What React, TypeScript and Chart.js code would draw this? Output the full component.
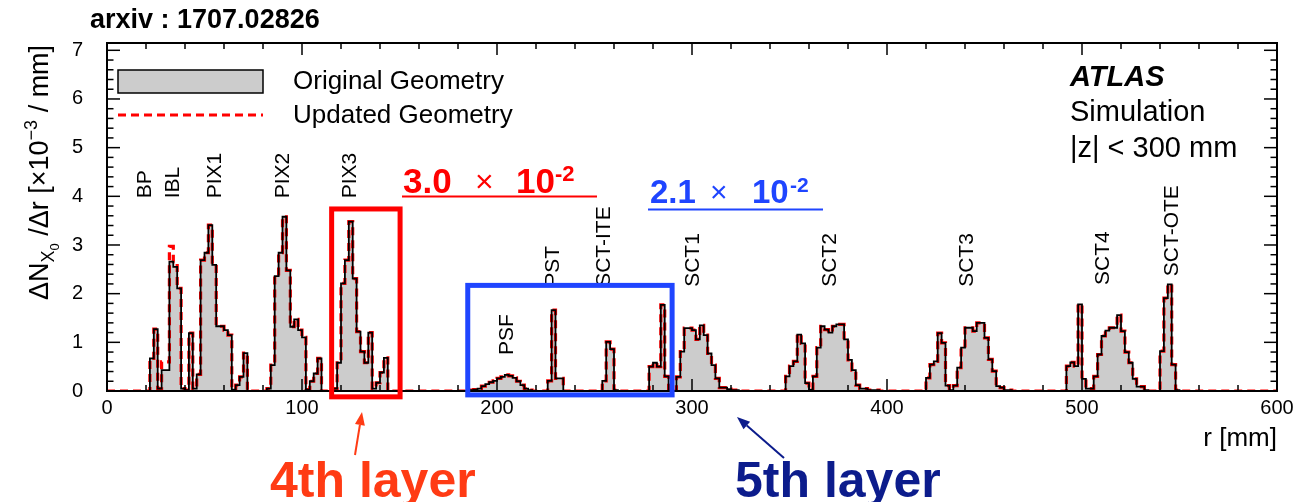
import React, { useEffect, useRef } from "react";
import { Chart, registerables } from "chart.js";

Chart.register(...registerables);

// ---------------- data ----------------
const R_MIN = 0; // mm
const R_MAX = 600; // mm
const BIN_WIDTH = 2; // mm
const Y_MAX = 7.15;

const xTickValues = [0, 100, 200, 300, 400, 500, 600];
const xTickLabels = ["0", "100", "200", "300", "400", "500", "600"];
const yTickValues = [0, 1, 2, 3, 4, 5, 6, 7];
const yTickLabels = ["0", "1", "2", "3", "4", "5", "6", "7"];

// ΔN_X0/Δr [x10^-3 / mm], 2 mm bins from 0 to 600 mm (one row = 20 mm)
const originalValues = [
  0, 0, 0, 0, 0, 0, 0, 0, 0, 0,
  0, 0.67, 1.27, 0.05, 0.43, 0.43, 2.66, 2.55, 2.11, 0.05,
  0.02, 1.19, 0.05, 0.34, 2.69, 2.84, 3.41, 2.59, 1.33, 1.33,
  1.25, 1.15, 0.03, 0.12, 0.29, 0.78, 0, 0, 0, 0,
  0, 0.05, 0.53, 2.36, 2.84, 3.58, 2.48, 1.32, 1.47, 1.25,
  1.1, 0.03, 0.2, 0.36, 0.67, 0, 0, 0, 0.05, 0.58,
  2.21, 2.69, 3.48, 2.31, 1.22, 0.81, 0.58, 1.2, 0.05, 0.17,
  0.38, 0.68, 0, 0, 0, 0, 0, 0, 0, 0,
  0, 0, 0, 0, 0, 0, 0, 0, 0, 0,
  0, 0, 0, 0.02, 0.03, 0.05, 0.1, 0.14, 0.18, 0.21,
  0.26, 0.29, 0.33, 0.31, 0.27, 0.2, 0.12, 0.05, 0.02, 0,
  0, 0, 0, 0.21, 1.66, 0.26, 0.26, 0, 0, 0,
  0, 0, 0, 0, 0, 0, 0, 0.21, 1.01, 0.86,
  0.02, 0, 0, 0, 0, 0, 0, 0, 0, 0.5,
  0.58, 0.5, 1.77, 0.3, 0, 0, 0.29, 0.81, 1.29, 1.29,
  1.25, 1.06, 1.35, 1.15, 0.77, 0.53, 0.26, 0.07, 0.07, 0.04,
  0.02, 0.02, 0, 0, 0, 0, 0, 0, 0, 0,
  0, 0, 0, 0, 0.3, 0.51, 0.61, 1.16, 0.98, 0.16,
  0.03, 0.3, 0.89, 1.33, 1.26, 1.2, 1.33, 1.37, 1.37, 1.06,
  0.64, 0.43, 0.12, 0.05, 0.05, 0.02, 0.02, 0.02, 0, 0,
  0, 0, 0, 0, 0, 0, 0, 0, 0, 0,
  0.27, 0.54, 0.61, 1.19, 0.99, 0.11, 0.02, 0.11, 0.48, 0.89,
  1.3, 1.3, 1.23, 1.4, 1.4, 1.09, 0.65, 0.41, 0.1, 0.07,
  0.02, 0.02, 0, 0, 0, 0, 0, 0, 0, 0,
  0, 0, 0, 0, 0, 0, 0.51, 0.59, 0.51, 1.78,
  0.25, 0.05, 0.05, 0.3, 0.75, 1.13, 1.24, 1.3, 1.3, 1.56,
  1.23, 0.8, 0.58, 0.25, 0.09, 0.09, 0.02, 0, 0, 0,
  0.82, 1.91, 2.19, 0.54, 0.02, 0, 0, 0, 0, 0,
  0, 0, 0, 0, 0, 0, 0, 0, 0, 0,
  0, 0, 0, 0, 0, 0, 0, 0, 0, 0,
];

const updatedValues = [
  0, 0, 0, 0, 0, 0, 0, 0, 0, 0,
  0, 0.67, 1.27, 0.05, 0.6, 0.6, 2.97, 2.66, 2.11, 0.05,
  0.02, 1.19, 0.05, 0.34, 2.69, 2.84, 3.41, 2.59, 1.33, 1.33,
  1.25, 1.15, 0.03, 0.12, 0.29, 0.78, 0, 0, 0, 0,
  0, 0.05, 0.53, 2.36, 2.84, 3.58, 2.48, 1.32, 1.47, 1.25,
  1.1, 0.03, 0.2, 0.36, 0.67, 0, 0, 0, 0.05, 0.58,
  2.21, 2.69, 3.48, 2.31, 1.22, 0.81, 0.58, 1.2, 0.05, 0.17,
  0.38, 0.68, 0, 0, 0, 0, 0, 0, 0, 0,
  0, 0, 0, 0, 0, 0, 0, 0, 0, 0,
  0, 0, 0, 0.02, 0.03, 0.05, 0.1, 0.14, 0.18, 0.21,
  0.26, 0.29, 0.33, 0.31, 0.27, 0.2, 0.12, 0.05, 0.02, 0,
  0, 0, 0, 0.21, 1.66, 0.26, 0.26, 0, 0, 0,
  0, 0, 0, 0, 0, 0, 0, 0.21, 1.01, 0.86,
  0.02, 0, 0, 0, 0, 0, 0, 0, 0, 0.5,
  0.58, 0.5, 1.77, 0.3, 0, 0, 0.29, 0.81, 1.29, 1.29,
  1.25, 1.06, 1.35, 1.15, 0.77, 0.53, 0.26, 0.07, 0.07, 0.04,
  0.02, 0.02, 0, 0, 0, 0, 0, 0, 0, 0,
  0, 0, 0, 0, 0.3, 0.51, 0.61, 1.16, 0.98, 0.16,
  0.03, 0.3, 0.89, 1.33, 1.26, 1.2, 1.33, 1.37, 1.37, 1.06,
  0.64, 0.43, 0.12, 0.05, 0.05, 0.02, 0.02, 0.02, 0, 0,
  0, 0, 0, 0, 0, 0, 0, 0, 0, 0,
  0.27, 0.54, 0.61, 1.19, 0.99, 0.11, 0.02, 0.11, 0.48, 0.89,
  1.3, 1.3, 1.23, 1.4, 1.4, 1.09, 0.65, 0.41, 0.1, 0.07,
  0.02, 0.02, 0, 0, 0, 0, 0, 0, 0, 0,
  0, 0, 0, 0, 0, 0, 0.51, 0.59, 0.51, 1.78,
  0.25, 0.05, 0.05, 0.3, 0.75, 1.13, 1.24, 1.3, 1.3, 1.56,
  1.23, 0.8, 0.58, 0.25, 0.09, 0.09, 0.02, 0, 0, 0,
  0.82, 1.91, 2.19, 0.54, 0.02, 0, 0, 0, 0, 0,
  0, 0, 0, 0, 0, 0, 0, 0, 0, 0,
  0, 0, 0, 0, 0, 0, 0, 0, 0, 0,
];

const seriesNames = ["Original Geometry", "Updated Geometry"];
const detectorNames = ["BP", "IBL", "PIX1", "PIX2", "PIX3", "PSF", "PST", "SCT-ITE", "SCT1", "SCT2", "SCT3", "SCT4", "SCT-OTE"];

// ---------------- layout / styles ----------------
const FONT = '"Liberation Sans", Arial, Helvetica, sans-serif';
// label anchors (r in mm, value at text start) for detector names
const detectorLabelAnchors: [number, number][] = [
  [19.6, 3.96], [34, 3.96], [55.5, 3.96], [90.4, 3.96], [124.7, 3.96],
  [205.2, 0.74], [228.8, 2.14], [255, 2.14], [300.6, 2.14], [370.8, 2.14],
  [441, 2.14], [510.8, 2.18], [546.2, 2.36],
];

function toSteps(values: number[]) {
  const pts = values.map((v, i) => ({ x: R_MIN + i * BIN_WIDTH, y: v }));
  pts.push({ x: R_MIN + values.length * BIN_WIDTH, y: values[values.length - 1] });
  return pts;
}

type Part = { t: string; size: number; dy?: number; weight?: string; style?: string };

function drawParts(ctx: CanvasRenderingContext2D, parts: Part[], x: number, y: number) {
  let cx = x;
  for (const p of parts) {
    ctx.font = `${p.style || ""} ${p.weight || ""} ${p.size}px ${FONT}`;
    ctx.fillText(p.t, cx, y + (p.dy || 0));
    cx += ctx.measureText(p.t).width;
  }
}

function line(ctx: CanvasRenderingContext2D, x1: number, y1: number, x2: number, y2: number) {
  ctx.beginPath();
  ctx.moveTo(x1, y1);
  ctx.lineTo(x2, y2);
  ctx.stroke();
}

function arrow(ctx: CanvasRenderingContext2D, x1: number, y1: number, x2: number, y2: number, color: string) {
  const ang = Math.atan2(y2 - y1, x2 - x1);
  const hl = 13, hw = 5;
  const bx = x2 - hl * Math.cos(ang), by = y2 - hl * Math.sin(ang);
  ctx.strokeStyle = color;
  ctx.fillStyle = color;
  ctx.lineWidth = 2;
  line(ctx, x1, y1, bx, by);
  ctx.beginPath();
  ctx.moveTo(x2, y2);
  ctx.lineTo(bx + hw * Math.sin(ang), by - hw * Math.cos(ang));
  ctx.lineTo(bx - hw * Math.sin(ang), by + hw * Math.cos(ang));
  ctx.closePath();
  ctx.fill();
}

const overlayPlugin = {
  id: "rootStyleOverlay",
  afterDraw(chart: any) {
    const ctx: CanvasRenderingContext2D = chart.ctx;
    const xs = chart.scales.x;
    const ys = chart.scales.y;
    const { left, right, top, bottom } = chart.chartArea;
    ctx.save();

    // frame
    ctx.strokeStyle = "#000";
    ctx.lineWidth = 2;
    ctx.strokeRect(left, top, right - left, bottom - top);

    // ticks (inside, ROOT style)
    ctx.lineWidth = 1.5;
    for (let k = 0; k <= 30; k++) {
      const r = k * 20;
      const px = xs.getPixelForValue(r);
      const len = k % 5 === 0 ? 12 : 6;
      line(ctx, px, bottom, px, bottom - len);
      line(ctx, px, top, px, top + len);
    }
    for (let k = 0; k <= 35; k++) {
      const v = k / 5;
      const py = ys.getPixelForValue(v);
      const len = k % 5 === 0 ? 13 : 6.5;
      line(ctx, left, py, left + len, py);
      line(ctx, right, py, right - len, py);
    }

    // tick labels
    ctx.fillStyle = "#000";
    ctx.font = `20px ${FONT}`;
    ctx.textAlign = "center";
    ctx.textBaseline = "top";
    xTickValues.forEach((v, i) => ctx.fillText(xTickLabels[i], xs.getPixelForValue(v), bottom + 7));
    ctx.textAlign = "right";
    ctx.textBaseline = "middle";
    yTickValues.forEach((v, i) => ctx.fillText(yTickLabels[i], left - 24, ys.getPixelForValue(v)));

    // x title
    ctx.textAlign = "right";
    ctx.textBaseline = "alphabetic";
    ctx.font = `26px ${FONT}`;
    ctx.fillText("r [mm]", right, 446);

    // y title (rotated)
    ctx.save();
    ctx.translate(48, 300);
    ctx.rotate(-Math.PI / 2);
    ctx.textAlign = "left";
    drawParts(ctx, [
      { t: "ΔN", size: 27 },
      { t: "X", size: 18, dy: 6 },
      { t: "0", size: 13, dy: 11 },
      { t: " /Δr [×10", size: 27 },
      { t: "−3", size: 18, dy: -11 },
      { t: " / mm]", size: 27 },
    ], 0, 0);
    ctx.restore();

    // header
    ctx.textAlign = "left";
    ctx.font = `bold 27px ${FONT}`;
    ctx.fillText("arxiv : 1707.02826", 90, 28);

    // legend
    ctx.fillStyle = "#cccccc";
    ctx.fillRect(118, 70, 145, 23);
    ctx.strokeStyle = "#000";
    ctx.lineWidth = 1.5;
    ctx.strokeRect(118, 70, 145, 23);
    ctx.strokeStyle = "#ff0000";
    ctx.lineWidth = 3;
    ctx.setLineDash([8, 5]);
    line(ctx, 118, 115, 263, 115);
    ctx.setLineDash([]);
    ctx.fillStyle = "#000";
    ctx.font = `26px ${FONT}`;
    ctx.fillText(seriesNames[0], 293, 89);
    ctx.fillText(seriesNames[1], 293, 123);

    // ATLAS label
    ctx.font = `italic bold 29px ${FONT}`;
    ctx.fillText("ATLAS", 1070, 86);
    ctx.font = `29px ${FONT}`;
    ctx.fillText("Simulation", 1070, 121);
    ctx.fillText("|z| < 300 mm", 1070, 157);

    // detector labels (rotated)
    ctx.font = `21px ${FONT}`;
    ctx.textBaseline = "middle";
    detectorNames.forEach((name, i) => {
      const [r, v] = detectorLabelAnchors[i];
      ctx.save();
      ctx.translate(xs.getPixelForValue(r), ys.getPixelForValue(v));
      ctx.rotate(-Math.PI / 2);
      ctx.fillText(name, 0, 0);
      ctx.restore();
    });
    ctx.textBaseline = "alphabetic";

    // 4th layer box (red)
    ctx.strokeStyle = "#ff0000";
    ctx.lineWidth = 5;
    {
      const x1 = xs.getPixelForValue(115.2), x2 = xs.getPixelForValue(150.3);
      const y1 = ys.getPixelForValue(3.74), y2 = ys.getPixelForValue(-0.12);
      ctx.strokeRect(x1, y1, x2 - x1, y2 - y1);
    }
    // 5th layer box (blue)
    ctx.strokeStyle = "#1f45ff";
    ctx.lineWidth = 5;
    {
      const x1 = xs.getPixelForValue(185.0), x2 = xs.getPixelForValue(289.8);
      const y1 = ys.getPixelForValue(2.17), y2 = ys.getPixelForValue(-0.08);
      ctx.strokeRect(x1, y1, x2 - x1, y2 - y1);
    }

    // 3.0 x 10^-2 (red)
    ctx.fillStyle = "#ff0000";
    drawParts(ctx, [{ t: "3.0", size: 35, weight: "bold" }], 403, 193);
    drawParts(ctx, [{ t: "×", size: 32 }], 475, 192);
    drawParts(ctx, [{ t: "10", size: 35, weight: "bold" }], 516, 193);
    drawParts(ctx, [{ t: "-2", size: 22, weight: "bold" }], 555, 181);
    ctx.strokeStyle = "#ff0000";
    ctx.lineWidth = 2;
    line(ctx, 402, 196.5, 597, 196.5);

    // 2.1 x 10^-2 (blue)
    ctx.fillStyle = "#1f45ff";
    drawParts(ctx, [{ t: "2.1", size: 33, weight: "bold" }], 650, 203);
    drawParts(ctx, [{ t: "×", size: 30 }], 710, 202);
    drawParts(ctx, [{ t: "10", size: 33, weight: "bold" }], 752, 203);
    drawParts(ctx, [{ t: "-2", size: 21, weight: "bold" }], 790, 192);
    ctx.strokeStyle = "#1f45ff";
    ctx.lineWidth = 2;
    line(ctx, 648, 209.5, 823, 209.5);

    // arrows and layer captions
    arrow(ctx, 355, 455, 362, 412, "#ff3b14");
    arrow(ctx, 784, 458, 737, 417, "#0c1c8c");
    ctx.font = `bold 50px ${FONT}`;
    ctx.fillStyle = "#ff3b14";
    ctx.fillText("4th layer", 270, 497);
    ctx.fillStyle = "#0c1c8c";
    ctx.fillText("5th layer", 735, 497);

    ctx.restore();
  },
};

export default function App() {
  const canvasRef = useRef<HTMLCanvasElement | null>(null);

  useEffect(() => {
    const canvas = canvasRef.current;
    if (!canvas) return;
    const chart = new Chart(canvas, {
      type: "line",
      data: {
        datasets: [
          {
            // gray area of the original geometry
            label: seriesNames[0] + " (area)",
            data: toSteps(originalValues),
            stepped: "before",
            borderWidth: 0,
            borderColor: "rgba(0,0,0,0)",
            backgroundColor: "#cccccc",
            fill: "origin",
            pointRadius: 0,
            order: 3,
          },
          {
            label: seriesNames[1],
            data: toSteps(updatedValues),
            stepped: "before",
            borderColor: "#ff0000",
            borderWidth: 3.2,
            borderDash: [8, 5],
            pointRadius: 0,
            fill: false,
            order: 2,
          },
          {
            label: seriesNames[0],
            data: toSteps(originalValues),
            stepped: "before",
            borderColor: "#000000",
            borderWidth: 1.8,
            fill: false,
            pointRadius: 0,
            order: 1,
          },
        ],
      },
      options: {
        animation: false,
        responsive: false,
        maintainAspectRatio: false,
        events: [],
        layout: { padding: { left: 107, right: 22, top: 43, bottom: 111 } },
        scales: {
          x: { type: "linear", min: R_MIN, max: R_MAX, display: false },
          y: { type: "linear", min: 0, max: Y_MAX, display: false },
        },
        plugins: { legend: { display: false }, tooltip: { enabled: false } },
      },
      plugins: [overlayPlugin],
    } as any);
    return () => chart.destroy();
  }, []);

  return (
    <div style={{ position: "fixed", left: 0, top: 0, width: 1299, height: 502, background: "#fff" }}>
      <canvas ref={canvasRef} width={1299} height={502} style={{ display: "block", width: 1299, height: 502 }} />
    </div>
  );
}
